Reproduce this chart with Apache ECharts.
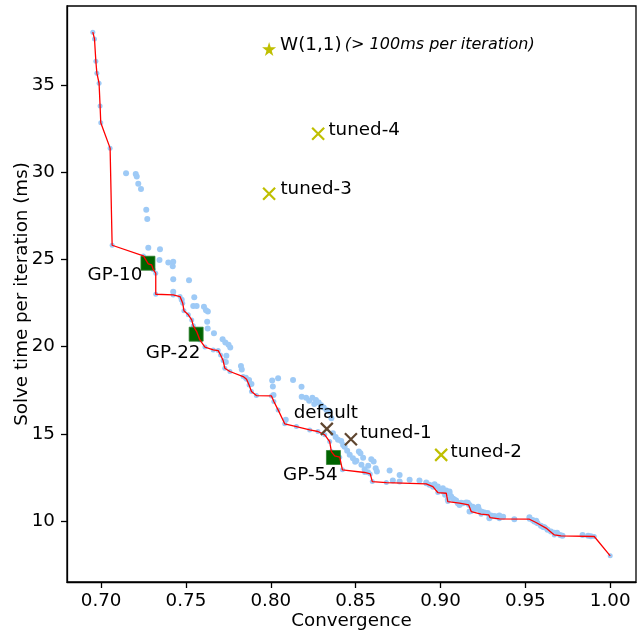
<!DOCTYPE html>
<html><head><meta charset="utf-8">
<script src="https://cdn.jsdelivr.net/npm/echarts@6/dist/echarts.min.js"></script>
<style>html,body{margin:0;padding:0;background:#fff}#c{width:641px;height:630px}</style>
</head><body><div id="c"></div>
<script>
// ---- tick labels ----
const xTicks = [0.70, 0.75, 0.80, 0.85, 0.90, 0.95, 1.00];
const yTicks = [10, 15, 20, 25, 30, 35];

// ---- Pareto front (red line) ----
const frontConv = [0.6951,0.6961,0.6969,0.6975,0.6988,0.6994,0.6998,0.7053,0.7065,0.7249,0.7278,0.7298,0.7308,0.7322,0.7322,0.7425,0.7465,0.7481,0.7488,0.7514,0.7534,0.7543,0.7563,0.7582,0.7612,0.7661,0.7690,0.7704,0.7719,0.7729,0.7759,0.7837,0.7857,0.7872,0.7886,0.7915,0.8004,0.8018,0.8043,0.8082,0.8151,0.8229,0.8278,0.8318,0.8347,0.8357,0.8376,0.8406,0.8422,0.8553,0.8586,0.8598,0.8681,0.8916,0.8955,0.8984,0.9034,0.9043,0.9112,0.9166,0.9181,0.9239,0.9284,0.9292,0.9347,0.9524,0.9563,0.9622,0.9671,0.9710,0.9906,1.0000];
const frontTime = [38.03,37.64,36.36,35.68,35.10,33.80,32.84,31.38,25.81,25.20,24.74,24.68,24.40,24.21,23.00,22.96,22.87,22.49,22.06,21.82,21.53,21.19,20.86,20.38,19.97,19.81,19.77,19.52,19.20,18.76,18.57,18.28,18.13,17.80,17.42,17.19,17.17,16.85,16.37,15.57,15.41,15.22,15.13,14.94,14.55,13.98,13.73,13.66,12.93,12.78,12.70,12.26,12.20,12.13,11.97,11.63,11.59,11.11,11.02,10.92,10.54,10.39,10.35,10.19,10.12,10.10,9.91,9.59,9.20,9.15,9.11,8.00];

// ---- all other sampled configurations (light blue cloud) ----
const cloudConv = [0.7147,0.7204,0.7210,0.7219,0.7235,0.7266,0.7272,0.7278,0.7347,0.7344,
0.7396,0.7425,0.7422,0.7425,0.7518,0.7425,0.7475,0.7549,0.7543,0.7563,
0.7606,0.7618,0.7629,0.7625,0.7628,0.7665,0.7716,0.7732,0.7751,0.7761,
0.7738,0.7735,0.7824,0.7829,0.7853,0.7872,0.7886,0.8008,0.8043,0.8012,
0.8131,0.8016,0.8181,0.8182,0.8245,0.8266,0.8282,0.8297,0.8312,0.8328,
0.8347,0.8357,0.8088,0.8366,0.8382,0.8396,0.8415,0.8426,0.8435,0.8465,
0.8484,0.8504,0.8519,0.8528,0.8534,0.8553,0.8572,0.8592,0.8606,0.8618,
0.8625,0.8700,0.8759,0.8719,0.8759,0.8818,0.8876,0.8916,0.8935,0.8965,
0.8984,0.8994,0.9014,0.9034,0.9053,0.9063,0.9043,0.9082,0.9092,0.9102,
0.9112,0.9131,0.9151,0.9161,0.9171,0.9190,0.9210,0.9225,0.9171,0.9239,
0.9259,0.9278,0.9298,0.9288,0.9328,0.9347,0.9435,0.9524,0.9543,0.9553,
0.9572,0.9592,0.9612,0.9631,0.9651,0.9671,0.9719,0.9837,0.9886,0.9014,0.9053,
0.8957,0.9027,0.9075,0.9122,0.9204,0.9222,0.9245,0.9316,0.9369,0.9564,
0.9605,0.9687,0.9705,0.9870,0.8450,0.8497,0.8544,0.8574,0.8208,0.8226,0.8256];
const cloudTime = [29.94,29.90,29.75,29.33,29.03,27.84,27.31,25.66,25.58,24.97,
24.82,24.86,24.60,23.86,23.81,23.15,22.68,22.83,22.33,22.33,
22.28,22.09,22.01,21.42,21.04,20.76,20.42,20.24,20.10,19.95,
19.47,19.12,18.88,18.69,18.21,18.09,17.86,18.06,18.19,17.71,
18.09,17.23,17.69,17.13,17.06,16.93,16.80,16.63,16.51,16.37,
16.27,15.89,15.80,15.03,14.82,14.65,14.59,14.36,14.25,13.79,
13.60,13.46,13.98,13.89,13.22,12.97,12.79,13.54,13.41,13.03,
12.83,12.89,12.64,12.32,12.26,12.36,12.32,12.21,12.07,12.10,
11.97,11.81,11.69,11.74,11.59,11.40,11.21,11.21,11.18,11.02,
10.92,11.02,11.06,11.04,10.92,10.81,10.75,10.68,10.54,10.54,
10.48,10.46,10.32,10.16,10.26,10.32,10.10,10.21,10.06,9.97,
9.87,9.72,9.64,9.49,9.39,9.33,9.15,9.20,9.12,11.88,11.69,
11.96,11.50,11.27,11.04,10.69,10.81,10.52,10.29,10.24,10.01,
9.66,9.32,9.20,9.15,14.02,13.39,13.62,13.16,17.06,16.89,16.71];

// ---- highlighted GP picks ----
const gpNames = ['GP-10', 'GP-22', 'GP-54'];
const gpConv = [0.7276, 0.7560, 0.8369];
const gpTime = [24.78, 20.71, 13.64];

// ---- reference configurations ----
const baseNames = ['default', 'tuned-1'];
const baseConv = [0.8330, 0.8472];
const baseTime = [15.28, 14.69];

const tunedNames = ['tuned-2', 'tuned-3', 'tuned-4'];
const tunedConv = [0.9004, 0.7990, 0.8279];
const tunedTime = [13.79, 28.76, 32.20];

const wName = 'W(1,1)';
const wNote = '(> 100ms per iteration)';
const wConv = [0.7990];
const wTime = [37.07];

// ---- layout (label offsets in px, not data) ----
const gpLabelOffsets = [[-33, 12], [-23, 19], [-23, 18]];
const baseLabelOffsets = [[-1, -16], [45, -6]];
const tunedLabelOffsets = [[45, -3], [47, -5], [46, -4]];

const FONT = 'DejaVu Sans';
const FS = 18.3;
const BLUE = '#9ecaf6';
const OLIVE = '#bfbf00';
const BROWN = '#5f4630';
const xPath = 'path://M0,0L10,10M10,0L0,10';
const starPath = 'path://M50,0L61,35L98,35L68,57L79,91L50,70L21,91L32,57L2,35L39,35Z';

const labelBase = {show: true, position: 'inside', color: '#000', fontFamily: FONT, fontSize: FS, textBorderWidth: 0, textBorderColor: 'transparent', textShadowBlur: 0};

function pts(xs, ys) { return xs.map((x, i) => [x, ys[i]]); }
function labeled(names, xs, ys, offs) {
  return names.map((n, i) => ({name: n, value: [xs[i], ys[i]], label: Object.assign({}, labelBase, {offset: offs[i], formatter: n})}));
}

const chart = echarts.init(document.getElementById('c'), null, {renderer: 'canvas'});
const axisCommon = {
  type: 'value',
  nameLocation: 'middle',
  nameMoveOverlap: false,
  nameTextStyle: {color: '#000', fontFamily: FONT, fontSize: FS},
  axisLine: {show: true, onZero: false, lineStyle: {color: '#000', width: 1.3}},
  splitLine: {show: false}
};
chart.setOption({
  animation: false,
  backgroundColor: '#fff',
  grid: {left: 67, right: 5, top: 6, bottom: 48, outerBoundsMode: 'none', containLabel: false, show: true, borderColor: '#000', borderWidth: 1.3, backgroundColor: 'transparent'},
  xAxis: Object.assign({}, axisCommon, {
    min: 0.6799, max: 1.0152, name: 'Convergence', nameGap: 30,
    axisTick: {show: true, length: 6, lineStyle: {color: '#000', width: 1.3}, customValues: xTicks},
    axisLabel: {customValues: xTicks, formatter: v => v.toFixed(2), margin: 10, color: '#000', fontFamily: FONT, fontSize: FS}
  }),
  yAxis: Object.assign({}, axisCommon, {
    min: 6.5, max: 39.53, name: 'Solve time per iteration (ms)', nameGap: 36,
    axisTick: {show: true, length: 6, lineStyle: {color: '#000', width: 1.3}, customValues: yTicks},
    axisLabel: {customValues: yTicks, formatter: v => String(v), margin: 12, color: '#000', fontFamily: FONT, fontSize: FS}
  }),
  series: [
    {type: 'scatter', z: 1, symbol: 'circle', symbolSize: 6, itemStyle: {color: BLUE, opacity: 1}, data: pts(cloudConv, cloudTime)},
    {type: 'scatter', z: 1, symbol: 'circle', symbolSize: 5, itemStyle: {color: BLUE, opacity: 1}, data: pts(frontConv, frontTime)},
    {type: 'scatter', z: 2, symbol: 'rect', symbolSize: 14, itemStyle: {color: '#006400', borderColor: '#2f7f2f', borderWidth: 0.8, opacity: 1},
      data: labeled(gpNames, gpConv, gpTime, gpLabelOffsets)},
    {type: 'line', z: 3, showSymbol: false, symbol: 'none', lineStyle: {color: '#ff0000', width: 1.3}, data: pts(frontConv, frontTime)},
    {type: 'scatter', z: 4, symbol: xPath, symbolSize: 12, itemStyle: {color: 'rgba(0,0,0,0)', borderColor: BROWN, borderWidth: 2.2, opacity: 1},
      data: labeled(baseNames, baseConv, baseTime, baseLabelOffsets)},
    {type: 'scatter', z: 4, symbol: xPath, symbolSize: 12, itemStyle: {color: 'rgba(0,0,0,0)', borderColor: OLIVE, borderWidth: 2.2, opacity: 1},
      data: labeled(tunedNames, tunedConv, tunedTime, tunedLabelOffsets)},
    {type: 'scatter', z: 4, symbol: starPath, symbolSize: 14, itemStyle: {color: OLIVE, opacity: 1},
      data: [{name: wName, value: [wConv[0], wTime[0]],
        label: {show: true, position: 'inside', align: 'left', offset: [11, -4], textBorderWidth: 0,
          formatter: '{a|' + wName + '} {b|' + wNote + '}',
          rich: {a: {color: '#000', fontFamily: FONT, fontSize: FS, textBorderWidth: 0}, b: {color: '#000', fontFamily: FONT, fontSize: 16, fontStyle: 'italic', textBorderWidth: 0}}}}]}
  ]
});
</script></body></html>
